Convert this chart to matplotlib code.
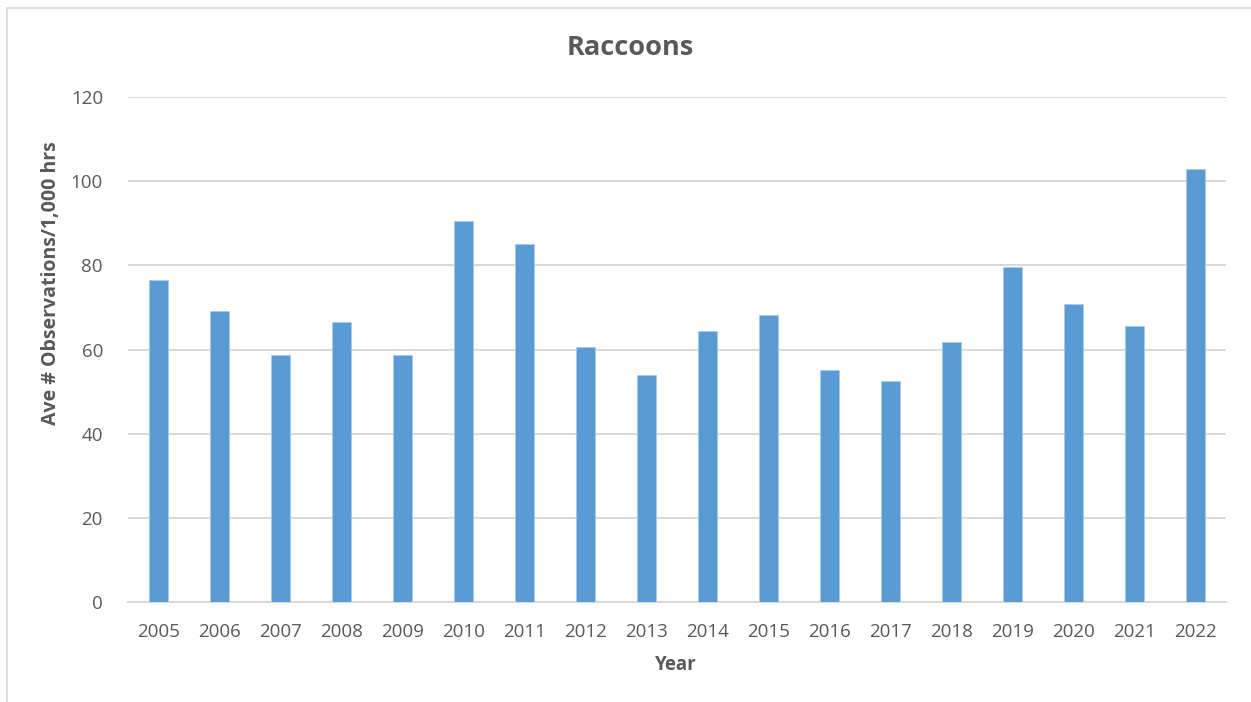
import matplotlib
matplotlib.use("Agg")
import matplotlib.pyplot as plt
from matplotlib.patches import Rectangle

years = ["2005", "2006", "2007", "2008", "2009", "2010", "2011", "2012", "2013",
         "2014", "2015", "2016", "2017", "2018", "2019", "2020", "2021", "2022"]
observations = [76.5, 69.1, 58.6, 66.6, 58.6, 90.5, 85.1, 60.6, 54.0,
                64.4, 68.3, 55.1, 52.4, 61.7, 79.5, 70.7, 65.5, 102.9]
y_ticks = [0, 20, 40, 60, 80, 100, 120]

plt.rcParams['font.family'] = ['Open Sans', 'DejaVu Sans']

W, H = 1251, 702
fig = plt.figure(figsize=(W / 100, H / 100), dpi=100)
fig.patch.set_facecolor("white")

# chart frame
fig.patches.append(Rectangle((7 / W, -0.1), 1.2, (H - 8) / H + 0.1,
                             transform=fig.transFigure, fill=False,
                             edgecolor="#d9d9d9", linewidth=1.2))

left, right, top, bottom = 128, 1226, 97, 602
ax = fig.add_axes([left / W, 1 - bottom / H, (right - left) / W, (bottom - top) / H])

x = list(range(len(years)))
ax.bar(x, observations, width=0.313, color="#5B9BD5",
       edgecolor="#a9c9ea", linewidth=0.6, zorder=3)

ax.set_xlim(-0.5, len(years) - 0.5)
ax.set_ylim(0, 120)
ax.set_yticks(y_ticks)
ax.set_xticks(x)
ax.set_xticklabels(years)
ax.grid(axis="y", color="#d9d9d9", linewidth=1.5, zorder=0)
ax.set_axisbelow(True)
for s in ["top", "right", "left"]:
    ax.spines[s].set_visible(False)
ax.spines["bottom"].set_color("#d9d9d9")
ax.spines["bottom"].set_linewidth(1.5)
ax.tick_params(axis="both", length=0, labelsize=13.5, colors="#595959")
ax.tick_params(axis="x", pad=15)
ax.tick_params(axis="y", pad=18)

fig.text(676 / W, 1 - 665 / H, "Year", ha="center", va="center",
         fontsize=13.5, fontweight="bold", color="#595959")
fig.text(51 / W, 1 - 283 / H, "Ave # Observations/1,000 hrs", ha="center",
         va="center", rotation=90, fontsize=14, fontweight="bold", color="#595959")
fig.text(630 / W, 1 - 48 / H, "Raccoons", ha="center", va="center",
         fontsize=19.5, fontweight="bold", color="#595959")

fig.savefig("out.png", dpi=100, facecolor="white")
